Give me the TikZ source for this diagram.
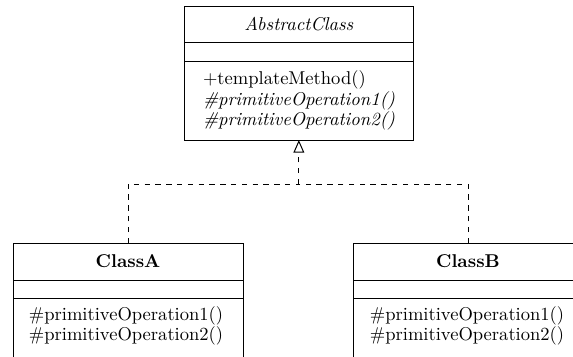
\documentclass[tikz,border=0pt]{standalone}
\usetikzlibrary{arrows.meta}
\tikzset{
  comp/.style 2 args={draw=black, line width=0.55pt, inner sep=0pt, outer sep=0pt,
    minimum width=#1*0.5556pt, minimum height=#2*0.5556pt, anchor=north west},
  meth/.style={inner sep=0pt, outer sep=0pt},
  link/.style={dashed, line width=0.55pt},
  realize/.style={link, -{Triangle[open, length=7pt, width=6pt, line width=0.55pt]}}
}
\begin{document}
\begin{tikzpicture}[x=0.5556pt, y=-0.5556pt, font=\fontsize{10.3pt}{12pt}\selectfont]
\useasboundingbox (0,0) rectangle (573,356);
\clip (0,0) rectangle (573,356);
% AbstractClass
\node[comp={228.3}{36}] (absT) at (184.7,6) {\textit{AbstractClass}};
\node[comp={228.3}{19}] (absA) at (184.7,42) {};
\node[comp={228.3}{79}] (absM) at (184.7,61) {};
\node[meth, anchor=west] (am1) at (203,80) {+templateMethod()};
\node[meth, anchor=west] (am2) at (203,100.5) {\textit{\#primitiveOperation1()}};
\node[meth, anchor=west] (am3) at (203,121) {\textit{\#primitiveOperation2()}};
% ClassA
\node[comp={230}{37}] (aT) at (13,243) {\textbf{ClassA}};
\node[comp={230}{18}] (aA) at (13,280) {};
\node[comp={230}{140}] (aM) at (13,298) {};
\node[meth] (a1) at (126,316) {\#primitiveOperation1()};
\node[meth] (a2) at (126,336) {\#primitiveOperation2()};
% ClassB
\node[comp={230}{37}] (bT) at (353,243) {\textbf{ClassB}};
\node[comp={230}{18}] (bA) at (353,280) {};
\node[comp={230}{140}] (bM) at (353,298) {};
\node[meth] (b1) at (467,316) {\#primitiveOperation1()};
\node[meth] (b2) at (467,336) {\#primitiveOperation2()};
% connectors
\coordinate (h) at (0,184);
\coordinate (j) at (absM.south |- h);
\draw[link] (aT.north) |- (j);
\draw[link] (bT.north) |- (j);
\draw[realize] (j) -- (absM.south);
\end{tikzpicture}
\end{document}
